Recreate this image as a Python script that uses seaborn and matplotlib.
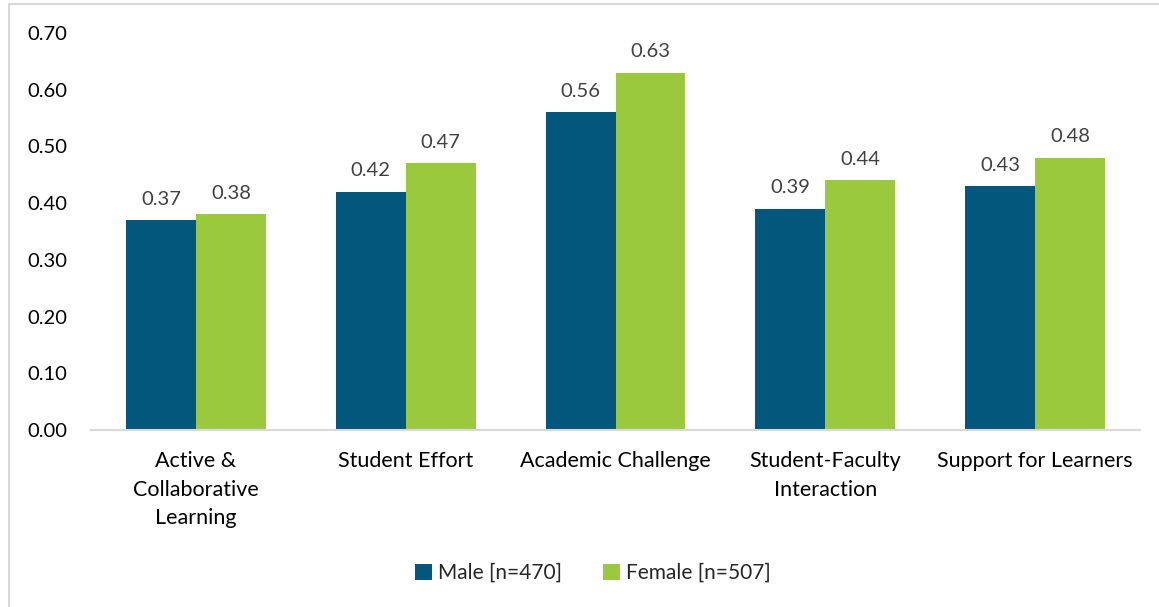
import matplotlib
matplotlib.use("Agg")
import matplotlib.pyplot as plt
from matplotlib.patches import Rectangle
import seaborn as sns
import pandas as pd

categories = ["Active &\nCollaborative\nLearning", "Student Effort", "Academic Challenge",
              "Student-Faculty\nInteraction", "Support for Learners"]
male = [0.37, 0.42, 0.56, 0.39, 0.43]
female = [0.38, 0.47, 0.63, 0.44, 0.48]
series_names = ["Male [n=470]", "Female [n=507]"]
colors = ["#03577D", "#9BC93D"]
yticks = [0.0, 0.1, 0.2, 0.3, 0.4, 0.5, 0.6, 0.7]

df = pd.DataFrame({
    "category": categories * 2,
    "group": [series_names[0]] * len(categories) + [series_names[1]] * len(categories),
    "value": male + female,
})

sns.set_theme(style="white")
plt.rcParams["font.family"] = ["Lato", "DejaVu Sans"]

W, H = 1159, 607
fig = plt.figure(figsize=(W / 100, H / 100), dpi=100)
ax = fig.add_axes([91 / W, 1 - 430 / H, (1140 - 91) / W, (430 - 33) / H])

sns.barplot(data=df, x="category", y="value", hue="group", order=categories,
            hue_order=series_names, palette=colors, width=0.667, gap=0,
            saturation=1, linewidth=0, ax=ax, legend=True)

ax.set_ylim(0, 0.7)
ax.set_xlim(-0.5, len(categories) - 0.5)
ax.set_yticks(yticks)
ax.set_yticklabels([f"{t:.2f}" for t in yticks], fontsize=14.5, color="#000000")
ax.tick_params(axis="x", labelsize=15.5, colors="#000000", length=0, pad=15)
ax.tick_params(axis="y", length=0, pad=17)
for lbl in ax.get_xticklabels():
    lbl.set_linespacing(1.55)
ax.set_xlabel("")
ax.set_ylabel("")
for s in ["top", "right", "left"]:
    ax.spines[s].set_visible(False)
ax.spines["bottom"].set_color("#D9D9D9")
ax.spines["bottom"].set_linewidth(1.5)

for cont in ax.containers:
    ax.bar_label(cont, fmt="%.2f", padding=9, fontsize=14.5, color="#404040")

handles, labels = ax.get_legend_handles_labels()
ax.legend_.remove()
fig.legend(handles, labels, loc="center", bbox_to_anchor=(593 / W, 1 - 573 / H),
           ncol=2, frameon=False, fontsize=15, handlelength=0.8, handleheight=0.8,
           handletextpad=0.3, columnspacing=2.0)

# chart area frame
fig.patches.append(Rectangle((9 / W, -0.1), 1.2, 1 - 4 / H + 0.1, transform=fig.transFigure,
                             fill=False, edgecolor="#D9D9D9", linewidth=1.5))

fig.savefig("out.png", dpi=100)
